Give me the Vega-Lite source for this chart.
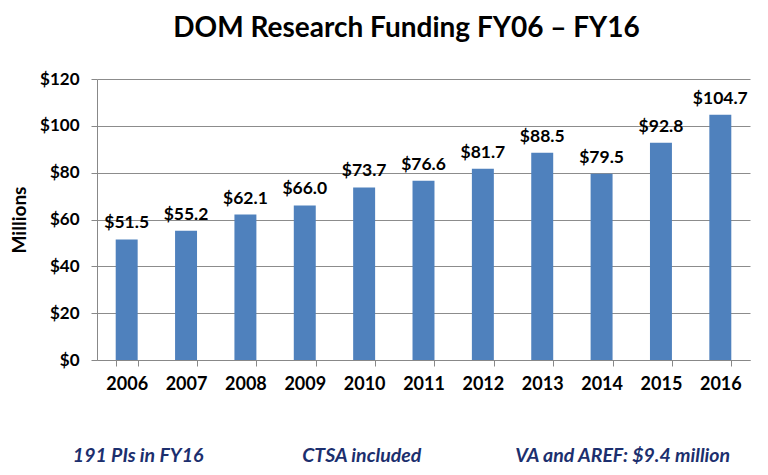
{
  "$schema": "https://vega.github.io/schema/vega-lite/v6.json",
  "width": 653,
  "height": 281,
  "autosize": {"type": "none"},
  "padding": {"left": 97, "top": 79, "right": 18, "bottom": 115},
  "background": "white",
  "config": {
    "font": "Lato",
    "view": {"stroke": null}
  },
  "title": {
    "text": "DOM Research Funding FY06 – FY16",
    "font": "Lato",
    "fontSize": 28,
    "fontWeight": "bold",
    "color": "#000000",
    "anchor": "middle",
    "dx": -17,
    "offset": 27
  },
  "datasets": {
    "funding": [
      {"year": "2006", "funding": 51.5},
      {"year": "2007", "funding": 55.2},
      {"year": "2008", "funding": 62.1},
      {"year": "2009", "funding": 66.0},
      {"year": "2010", "funding": 73.7},
      {"year": "2011", "funding": 76.6},
      {"year": "2012", "funding": 81.7},
      {"year": "2013", "funding": 88.5},
      {"year": "2014", "funding": 79.5},
      {"year": "2015", "funding": 92.8},
      {"year": "2016", "funding": 104.7}
    ],
    "notes": [
      {"note": "191 PIs in FY16", "year": "2006"},
      {"note": "CTSA included", "year": "2010"},
      {"note": "VA and AREF: $9.4 million", "year": "2014"}
    ]
  },
  "layer": [
    {
      "data": {"name": "funding"},
      "mark": {"type": "bar", "color": "#4F81BD"},
      "encoding": {
        "x": {
          "field": "year",
          "type": "ordinal",
          "scale": {"paddingInner": 0.63, "paddingOuter": 0.315},
          "axis": {
            "title": null,
            "labelAngle": 0,
            "labelFont": "Lato",
            "labelFontSize": 18,
            "labelFontWeight": "bold",
            "labelColor": "#000000",
            "labelPadding": 9,
            "tickBand": "extent",
            "tickSize": 6,
            "tickColor": "#888888",
            "domainColor": "#888888",
            "grid": false
          }
        },
        "y": {
          "field": "funding",
          "type": "quantitative",
          "scale": {"domain": [0, 120], "nice": false},
          "axis": {
            "title": "Millions",
            "titleFont": "Lato",
            "titleFontSize": 19,
            "titleFontWeight": "bold",
            "titleColor": "#000000",
            "titlePadding": 10,
            "values": [0, 20, 40, 60, 80, 100, 120],
            "labelExpr": "'$' + datum.value",
            "labelFont": "Lato",
            "labelFontSize": 17,
            "labelFontWeight": "bold",
            "labelColor": "#000000",
            "labelPadding": 12,
            "tickSize": 6,
            "tickColor": "#888888",
            "domainColor": "#888888",
            "grid": true,
            "gridColor": "#8c8c8c",
            "gridWidth": 1
          }
        }
      }
    },
    {
      "data": {"name": "funding"},
      "mark": {
        "type": "text",
        "baseline": "alphabetic",
        "dy": -11,
        "font": "Lato",
        "fontSize": 17.5,
        "fontWeight": "bold",
        "color": "#000000"
      },
      "encoding": {
        "x": {"field": "year", "type": "ordinal"},
        "y": {"field": "funding", "type": "quantitative"},
        "text": {"field": "funding", "type": "quantitative", "format": "$.1f"}
      }
    },
    {
      "data": {"name": "notes"},
      "transform": [{"filter": "datum.year == '2006'"}],
      "mark": {"type": "text", "align": "center", "baseline": "middle", "font": "Lato", "fontSize": 19.5, "fontWeight": "bold", "fontStyle": "italic", "color": "#1C2F6E"},
      "encoding": {
        "x": {"field": "year", "type": "ordinal", "bandPosition": 1.02},
        "y": {"datum": -41},
        "text": {"field": "note", "type": "nominal"}
      }
    },
    {
      "data": {"name": "notes"},
      "transform": [{"filter": "datum.year == '2010'"}],
      "mark": {"type": "text", "align": "center", "baseline": "middle", "font": "Lato", "fontSize": 19.5, "fontWeight": "bold", "fontStyle": "italic", "color": "#1C2F6E"},
      "encoding": {
        "x": {"field": "year", "type": "ordinal", "bandPosition": 0.39},
        "y": {"datum": -41},
        "text": {"field": "note", "type": "nominal"}
      }
    },
    {
      "data": {"name": "notes"},
      "transform": [{"filter": "datum.year == '2014'"}],
      "mark": {"type": "text", "align": "center", "baseline": "middle", "font": "Lato", "fontSize": 19.5, "fontWeight": "bold", "fontStyle": "italic", "color": "#1C2F6E"},
      "encoding": {
        "x": {"field": "year", "type": "ordinal", "bandPosition": 1.46},
        "y": {"datum": -41},
        "text": {"field": "note", "type": "nominal"}
      }
    }
  ]
}
